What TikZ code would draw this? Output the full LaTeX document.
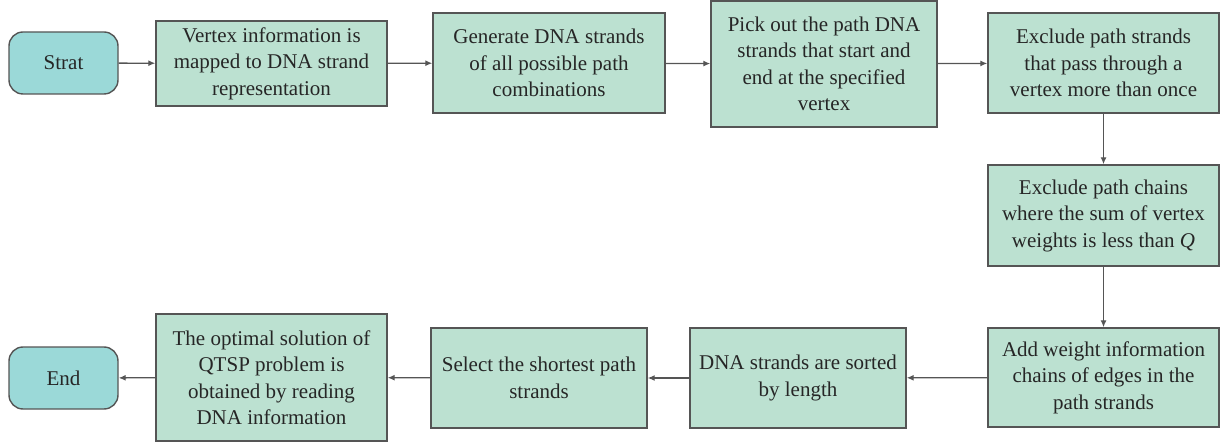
\documentclass[tikz,border=0pt]{standalone}
\usepackage{fontspec}
\setmainfont{Liberation Serif}
\usepackage{xcolor}
\usetikzlibrary{arrows.meta}

\definecolor{boxgreen}{HTML}{BCE1D1}
\definecolor{termcyan}{HTML}{9BD9D8}
\definecolor{edgegray}{HTML}{555555}
\definecolor{textgray}{HTML}{262626}

\tikzset{
  stepbox/.style={draw=edgegray, line width=1.4pt, fill=boxgreen, text=textgray,
    align=center, inner sep=0pt, font=\fontsize{21}{26.5}\selectfont},
  termbox/.style={stepbox, fill=termcyan, rounded corners=14pt,
    minimum width=109pt, minimum height=62pt},
  flow/.style={draw=edgegray, line width=1.3pt, -{Latex[length=7pt,width=6pt]}}
}

\begin{document}
\begin{tikzpicture}[x=1pt, y=-1pt]
            \useasboundingbox (0,0) rectangle (1225,443);
            \node[termbox] (strat) at (63.5, 63) {Strat};
            \node[stepbox, minimum width=231pt, minimum height=85pt] (map) at (271.5, 63.5)
              {Vertex information is\\mapped to DNA strand\\representation};
            \node[stepbox, minimum width=232pt, minimum height=100pt] (gen) at (549, 63)
              {Generate DNA strands\\of all possible path\\combinations};
            \node[stepbox, minimum width=226pt, minimum height=126pt] (pick) at (824, 64)
              {Pick out the path DNA\\strands that start and\\end at the specified\\vertex};
            \node[stepbox, minimum width=231pt, minimum height=100pt] (once) at (1103.5, 63)
              {Exclude path strands\\that pass through a\\vertex more than once};
            \node[stepbox, minimum width=231pt, minimum height=101pt] (sum) at (1103.5, 215.5)
              {Exclude path chains\\where the sum of vertex\\weights is less than \textit{Q}};
            \node[stepbox, minimum width=231pt, minimum height=99pt] (weight) at (1103.5, 377.5)
              {Add weight information\\chains of edges in the\\path strands};
            \node[stepbox, minimum width=216pt, minimum height=100pt] (sort) at (798, 378)
              {DNA strands are sorted\\by length};
            \node[stepbox, minimum width=216pt, minimum height=100pt] (short) at (539, 378)
              {Select the shortest path\\strands};
            \node[stepbox, minimum width=231pt, minimum height=127pt] (read) at (271.5, 377.5)
              {The optimal solution of\\QTSP problem is\\obtained by reading\\DNA information};
            \node[termbox] (end) at (63.5, 378) {End};
            \draw[flow] (strat) -- (map);
            \draw[flow] (map) -- (gen);
            \draw[flow] (gen) -- (pick);
            \draw[flow] (pick) -- (once);
            \draw[flow] (once) -- (sum);
            \draw[flow] (sum) -- (weight);
            \draw[flow] (weight) -- (sort);
            \draw[flow] (sort) -- (short);
            \draw[flow] (short) -- (read);
            \draw[flow] (read) -- (end);
          \end{tikzpicture}
\end{document}
